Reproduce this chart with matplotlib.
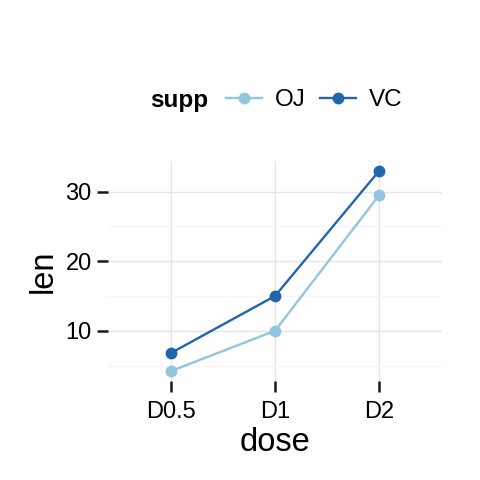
import matplotlib
matplotlib.use("Agg")
import matplotlib.pyplot as plt
from matplotlib.lines import Line2D

plt.rcParams['font.family'] = ['Liberation Sans', 'DejaVu Sans']

# data
doses = ["D0.5", "D1", "D2"]
oj_len = [4.2, 10.0, 29.5]
vc_len = [6.8, 15.0, 33.0]
groups = ["OJ", "VC"]
colors = ["#92C5DE", "#2166AC"]

fig = plt.figure(figsize=(4.8, 4.8), dpi=100)
ax = fig.add_axes([0.226, 0.206, 0.694, 0.459])

x = list(range(len(doses)))
for vals, name, col in zip([oj_len, vc_len], groups, colors):
    ax.plot(x, vals, color=col, lw=1.7, marker="o", markersize=7.5, label=name, zorder=3)

# ggplot style expansion
lo = min(oj_len + vc_len)
hi = max(oj_len + vc_len)
pad = (hi - lo) * 0.05
ax.set_ylim(lo - pad, hi + pad)
ax.set_xlim(-0.6, len(doses) - 1 + 0.6)

ax.set_xticks(x)
ax.set_xticklabels(doses)
ax.set_yticks([10, 20, 30])
ax.set_yticks([5, 15, 25], minor=True)

ax.grid(True, which="major", color="#E5E5E5", lw=1.0)
ax.grid(True, which="minor", axis="y", color="#F5F5F5", lw=1.0)
ax.set_axisbelow(True)
for s in ax.spines.values():
    s.set_visible(False)

ax.tick_params(axis="both", which="major", length=8, width=1.8, color="#1a1a1a",
               labelsize=17)
ax.tick_params(axis="x", which="major", pad=6)
ax.tick_params(axis="y", which="major", pad=4)
ax.tick_params(axis="both", which="minor", length=0)

ax.set_xlabel("dose", fontsize=23.5, labelpad=3)
ax.set_ylabel("len", fontsize=23.5, labelpad=5)

# legend on top: title as text, keys as a 2-column legend
fig.text(150 / 480, 1 - 100 / 480, "supp", fontsize=17.5, fontweight="bold",
         ha="left", va="center")
handles = [Line2D([0], [0], color=c, lw=1.7, marker="o", markersize=7.5) for c in colors]
fig.legend(handles, groups, loc="center left", bbox_to_anchor=(226 / 480, 1 - 100 / 480),
           ncol=2, frameon=False, fontsize=17.5, handlelength=1.5,
           columnspacing=0.6, handletextpad=0.5, borderaxespad=0, borderpad=0)

fig.savefig("out.png", dpi=100)
